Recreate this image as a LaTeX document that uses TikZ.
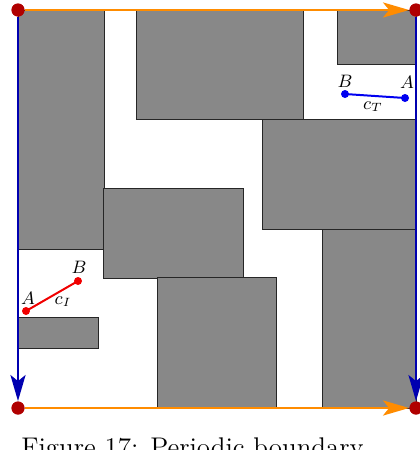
\documentclass[tikz,border=0pt]{standalone}
\usetikzlibrary{arrows.meta}
\definecolor{obst}{HTML}{888888}
\definecolor{frameorange}{HTML}{FF8C00}
\definecolor{frameblue}{HTML}{0000B0}
\definecolor{cornerred}{HTML}{B00000}
\definecolor{segred}{HTML}{F00000}
\definecolor{segblue}{HTML}{0000F0}
\begin{document}
\begin{tikzpicture}[x=0.5pt,y=-0.5pt,
  obstacle/.style={fill=obst, draw=black!85, line width=0.4pt},
  corner/.style={circle, fill=cornerred, inner sep=0pt, minimum size=6.5pt},
  hedge/.style={draw=frameorange, line width=1.4pt, -{Stealth[length=13pt,width=7.5pt,inset=3pt]}},
  vedge/.style={draw=frameblue, line width=1.4pt, -{Stealth[length=13pt,width=7.5pt,inset=3pt]}},
  pt/.style={circle, inner sep=0pt, minimum size=4pt},
  lbl/.style={inner sep=0pt, font=\fontsize{9}{11}\selectfont}]
\useasboundingbox (0,0) rectangle (419,450);
% obstacles
\path[obstacle] (18,10) rectangle (104,249);
\path[obstacle] (136,10) rectangle (303,119);
\path[obstacle] (337,10) rectangle (416,64);
\path[obstacle] (262,119) rectangle (416,229);
\path[obstacle] (322,229) rectangle (416,408);
\path[obstacle] (103,188) rectangle (243,278);
\path[obstacle] (157,277) rectangle (276,407);
\path[obstacle] (18,317) rectangle (98,348);
% corners
\node[corner] (tl) at (18,10) {};
\node[corner] (tr) at (416,10) {};
\node[corner] (bl) at (18,408) {};
\node[corner] (br) at (416,408) {};
% frame
\draw[hedge] (tl) -- (tr);
\draw[hedge] (bl) -- (br);
\draw[vedge] (tl) -- (bl);
\draw[vedge] (tr) -- (br);
\node[corner] at (18,10) {};
\node[corner] at (416,10) {};
\node[corner] at (18,408) {};
\node[corner] at (416,408) {};
% initial curve
\node[pt, fill=segred] (AI) at (26,311) {};
\node[pt, fill=segred] (BI) at (78,281) {};
\draw[segred, line width=1pt] (AI.center) -- (BI.center);
\node[lbl] (lAI) at (28,298) {$A$};
\node[lbl] (lBI) at (79,267) {$B$};
\node[lbl] (lcI) at (63,302) {$c_I$};
% terminal curve
\node[pt, fill=segblue] (BT) at (345,94) {};
\node[pt, fill=segblue] (AT) at (405,98) {};
\draw[segblue, line width=1pt] (BT.center) -- (AT.center);
\node[lbl] (lBT) at (345,81) {$B$};
\node[lbl] (lAT) at (407,82) {$A$};
\node[lbl] (lcT) at (373,107) {$c_T$};
% caption (cut off by the page edge, as in the reference)
\node[anchor=base west, inner sep=0pt, font=\fontsize{13.5}{16}\selectfont] (cap) at (21,456) {Figure 17: Periodic boundary};
\end{tikzpicture}
\end{document}
